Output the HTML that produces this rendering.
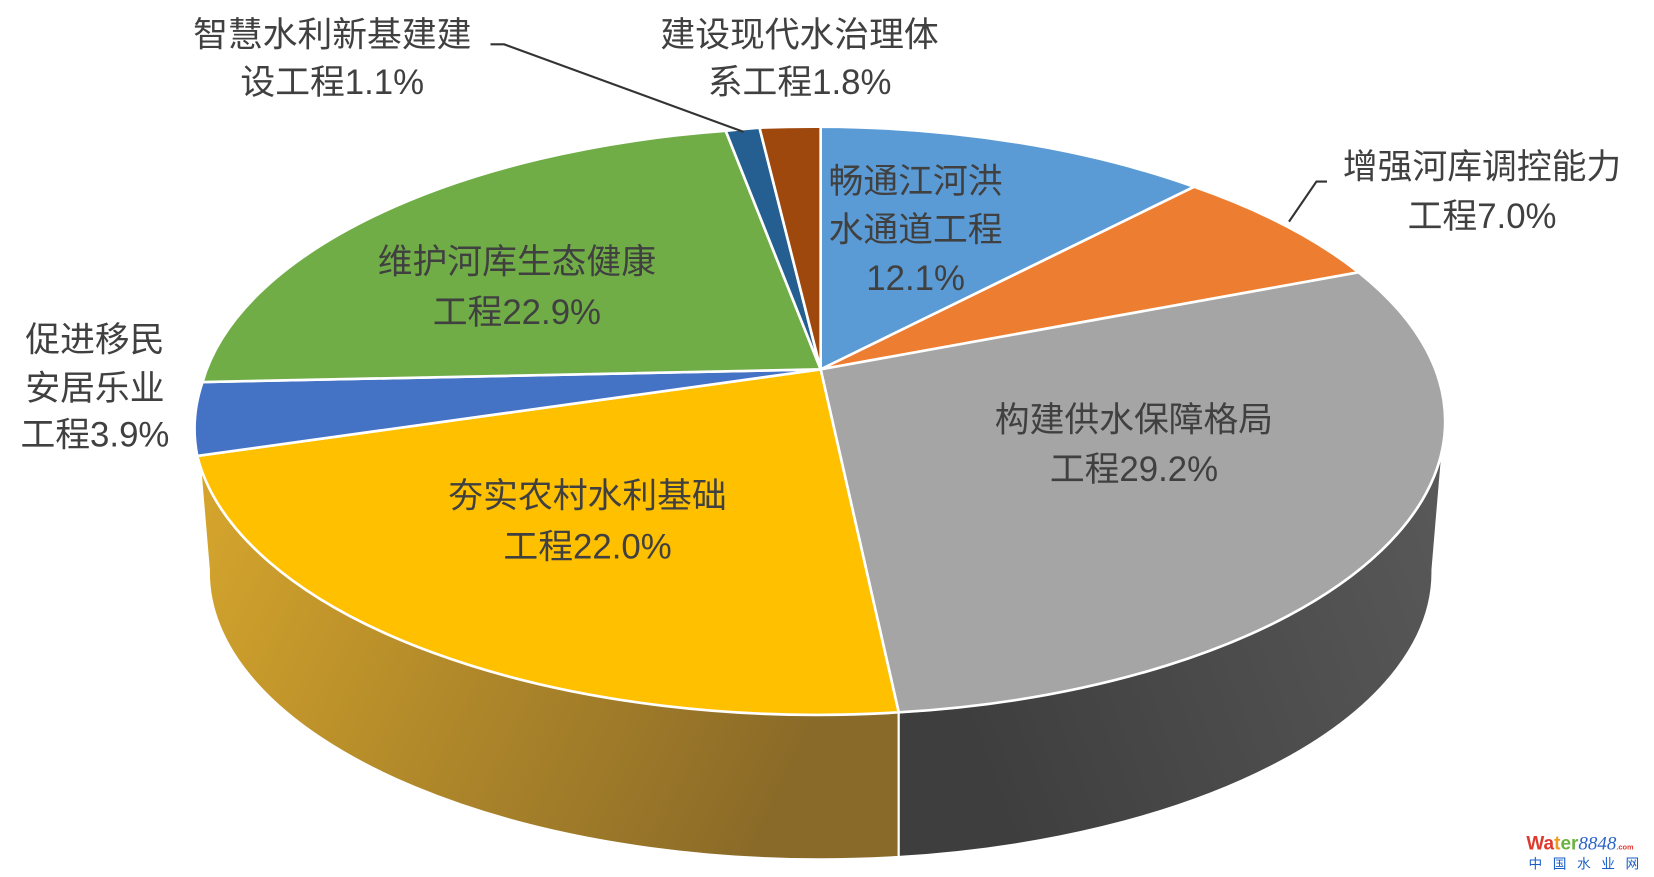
<!DOCTYPE html>
<html><head><meta charset="utf-8"><style>
html,body{margin:0;padding:0;background:#fff;width:1654px;height:877px;overflow:hidden}
svg text{font-family:"Liberation Sans","Noto Sans CJK SC",sans-serif;font-size:33px;fill:#404040;text-anchor:middle}
</style></head><body>
<svg width="1654" height="877" viewBox="0 0 1568 831" preserveAspectRatio="none" xmlns="http://www.w3.org/2000/svg">
<defs>
<linearGradient id="gy" x1="0" y1="0" x2="1" y2="0.3"><stop offset="0" stop-color="#d9a82c"/><stop offset="1" stop-color="#8a6a28"/></linearGradient>
<linearGradient id="gg" x1="0" y1="0.3" x2="1" y2="0"><stop offset="0" stop-color="#3e3e3e"/><stop offset="1" stop-color="#5a5a5a"/></linearGradient>
</defs>
<path d="M186,398 A592,278 0 0 0 852,675 L852,812 A580,272 0 0 1 198,540 Z" fill="url(#gy)" stroke="#fff" stroke-width="2"/>
<path d="M852,675 A592,278 0 0 0 1370,398 L1358,540 A580,272 0 0 1 852,812 Z" fill="url(#gg)" stroke="#fff" stroke-width="2"/>
<g stroke="#fff" stroke-width="2.5" stroke-linejoin="round">
<path d="M778,350 L778,120 A592,278 0 0 1 1132,177 Z" fill="#5b9bd5"/>
<path d="M778,350 L1132,177 A592,278 0 0 1 1288,258 Z" fill="#ed7d31"/>
<path d="M778,350 L1288,258 A592,278 0 0 1 852,675 Z" fill="#a5a5a5"/>
<path d="M778,350 L852,675 A592,278 0 0 1 187,432 Z" fill="#ffc000"/>
<path d="M778,350 L187,432 A592,278 0 0 1 192,362 Z" fill="#4472c4"/>
<path d="M778,350 L192,362 A592,278 0 0 1 688,124 Z" fill="#70ad47"/>
<path d="M778,350 L688,124 A592,278 0 0 1 720,121 Z" fill="#255e91"/>
<path d="M778,350 L720,121 A592,278 0 0 1 778,120 Z" fill="#9e480e"/>
</g>
<polyline points="465,42 478,42 705,125" fill="none" stroke="#333" stroke-width="2"/>
<polyline points="1258,172 1248,172 1222,210" fill="none" stroke="#333" stroke-width="2"/>
<text x="315" y="44">智慧水利新基建建</text>
<text x="315" y="89">设工程1.1%</text>
<text x="758" y="44">建设现代水治理体</text>
<text x="758" y="89">系工程1.8%</text>
<text x="868" y="183">畅通江河洪</text>
<text x="868" y="229">水通道工程</text>
<text x="868" y="275">12.1%</text>
<text x="1405" y="169">增强河库调控能力</text>
<text x="1405" y="216">工程7.0%</text>
<text x="490" y="259">维护河库生态健康</text>
<text x="490" y="307">工程22.9%</text>
<text x="90" y="333">促进移民</text>
<text x="90" y="379">安居乐业</text>
<text x="90" y="423">工程3.9%</text>
<text x="1075" y="409">构建供水保障格局</text>
<text x="1075" y="456">工程29.2%</text>
<text x="557" y="481">夯实农村水利基础</text>
<text x="557" y="529">工程22.0%</text>
<text x="1447" y="805" style="font-size:18px;font-weight:bold;fill:#e03a2e;text-anchor:start">Wa<tspan fill="#f39a1e">t</tspan><tspan fill="#6cb33f">er</tspan><tspan fill="#2a64c8" font-style="italic" font-weight="normal" font-family="Liberation Serif">8848</tspan><tspan fill="#e03a2e" font-size="7">.com</tspan></text>
<text x="1449" y="823" style="font-size:13px;fill:#1a5fc8;letter-spacing:10px;text-anchor:start">中国水业网</text>
</svg>
</body></html>
